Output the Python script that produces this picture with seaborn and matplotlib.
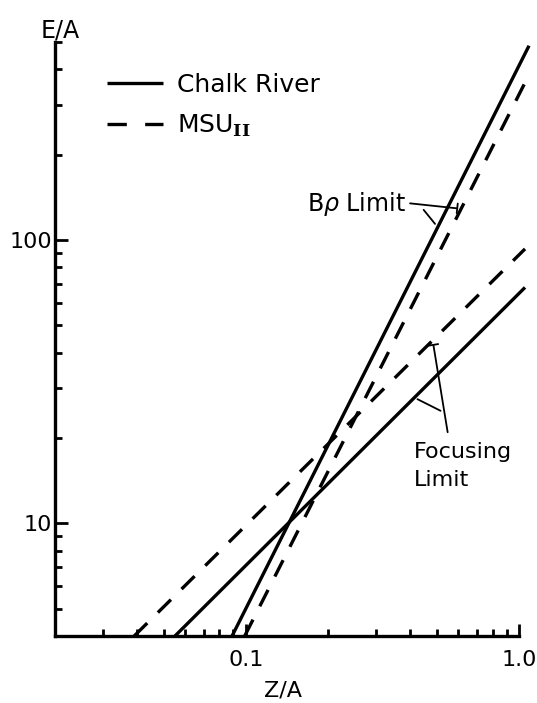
import numpy as np
import pandas as pd
import matplotlib
matplotlib.use("Agg")
import matplotlib.pyplot as plt
import seaborn as sns
from matplotlib.lines import Line2D
from matplotlib.ticker import FixedLocator, FixedFormatter, LogLocator, NullFormatter

# Limit lines: (Z/A, E/A) end points of each straight line
chalk_brho_z = [0.089, 1.088]
chalk_brho_e = [4.0, 485.0]
msu_brho_z = [0.099, 1.079]
msu_brho_e = [4.0, 377.0]
chalk_focus_z = [0.055, 1.052]
chalk_focus_e = [4.0, 68.0]
msu_focus_z = [0.039, 1.052]
msu_focus_e = [4.0, 93.0]

facilities = ["Chalk River", "MSU II"]
legend_labels = ["Chalk River", r"MSU$_{\mathbf{II}}$"]
x_ticks = [0.1, 1.0]
x_tick_labels = ["0.1", "1.0"]
y_ticks = [10, 100]
y_tick_labels = ["10", "100"]

LW = 2.4
DASH = (5.5, 4.5)


def build_frame():
    rows = []
    lines = [
        ("Chalk River", "Brho", chalk_brho_z, chalk_brho_e),
        ("MSU II", "Brho", msu_brho_z, msu_brho_e),
        ("Chalk River", "Focusing", chalk_focus_z, chalk_focus_e),
        ("MSU II", "Focusing", msu_focus_z, msu_focus_e),
    ]
    for fac, lim, zs, es in lines:
        for z, e in zip(zs, es):
            rows.append({"facility": fac, "limit": fac + " " + lim, "z": z, "e": e})
    return pd.DataFrame(rows)


def main():
    sns.set_style("ticks")
    plt.rcParams["font.family"] = ["DejaVu Sans"]
    plt.rcParams["text.color"] = "black"
    plt.rcParams["mathtext.fontset"] = "custom"
    plt.rcParams["mathtext.rm"] = "DejaVu Sans"
    plt.rcParams["mathtext.it"] = "DejaVu Sans:italic"
    plt.rcParams["mathtext.bf"] = "DejaVu Serif:bold"

    fs = 16
    fig = plt.figure(figsize=(5.37, 7.03), dpi=100)
    ax = fig.add_axes([0.1024, 0.0953, 0.8641, 0.8450])

    df = build_frame()
    sns.lineplot(
        data=df, x="z", y="e", style="facility", units="limit",
        estimator=None, sort=False, color="black", lw=LW,
        style_order=facilities, dashes={"Chalk River": "", "MSU II": DASH},
        legend=False, ax=ax,
    )
    for ln in ax.get_lines():
        ln.set_clip_on(False)
        ln.set_solid_capstyle("butt")

    ax.set_xscale("log")
    ax.set_yscale("log")
    ax.set_xlim(0.02, 1.0)
    ax.set_ylim(4, 500)

    ax.xaxis.set_major_locator(FixedLocator(x_ticks))
    ax.xaxis.set_major_formatter(FixedFormatter(x_tick_labels))
    ax.yaxis.set_major_locator(FixedLocator(y_ticks))
    ax.yaxis.set_major_formatter(FixedFormatter(y_tick_labels))
    for axis in (ax.xaxis, ax.yaxis):
        axis.set_minor_locator(LogLocator(base=10, subs=np.arange(2, 10), numticks=20))
        axis.set_minor_formatter(NullFormatter())

    ax.tick_params(which="both", direction="in", width=2, colors="black",
                   labelcolor="black", labelsize=fs)
    ax.tick_params(which="major", length=9)
    ax.tick_params(which="minor", length=5)
    ax.tick_params(axis="x", which="major", pad=10)
    ax.tick_params(axis="y", which="major", pad=2)
    ax.set_xlabel("")
    ax.set_ylabel("")

    sns.despine(ax=ax)
    for side in ("left", "bottom"):
        ax.spines[side].set_linewidth(LW)
        ax.spines[side].set_color("black")

    # axis titles sit outside the frame, like the original drawing
    ax.text(0.011, 1.020, "E/A", transform=ax.transAxes, ha="center", va="center", fontsize=17)
    ax.text(0.491, -0.0915, "Z/A", transform=ax.transAxes, ha="center", va="center", fontsize=16)

    # legend
    handles = [
        Line2D([], [], color="black", lw=LW, solid_capstyle="butt"),
        Line2D([], [], color="black", lw=LW, dashes=(5.8, 5.5)),
    ]
    ax.legend(
        handles, legend_labels, loc="upper left", bbox_to_anchor=(0.112, 0.948),
        frameon=False, fontsize=18, handlelength=2.25, handletextpad=0.55,
        labelspacing=0.62, borderpad=0, borderaxespad=0,
    )

    # B-rho limit label and leaders
    ax.text(0.385, 134, r"B$\rho$ Limit", ha="right", va="center", fontsize=17)
    kw = dict(color="black", lw=1.3)
    ax.annotate("", xy=(0.608, 129), xytext=(0.39, 135),
                arrowprops=dict(arrowstyle="-[, widthB=0.35, lengthB=0", **kw))
    ax.annotate("", xy=(0.50, 112), xytext=(0.441, 130),
                arrowprops=dict(arrowstyle="-", **kw))

    # focusing limit label and leaders
    ax.text(0.413, 19.3, "Focusing\nLimit", ha="left", va="top", fontsize=fs, linespacing=1.45)
    ax.annotate("", xy=(0.484, 43.6), xytext=(0.550, 20.5),
                arrowprops=dict(arrowstyle="-[, widthB=0.35, lengthB=0", **kw))
    ax.annotate("", xy=(0.416, 27.7), xytext=(0.527, 24.7),
                arrowprops=dict(arrowstyle="-", **kw))

    fig.savefig("out.png", dpi=100)
    plt.close(fig)


if __name__ == "__main__":
    main()
